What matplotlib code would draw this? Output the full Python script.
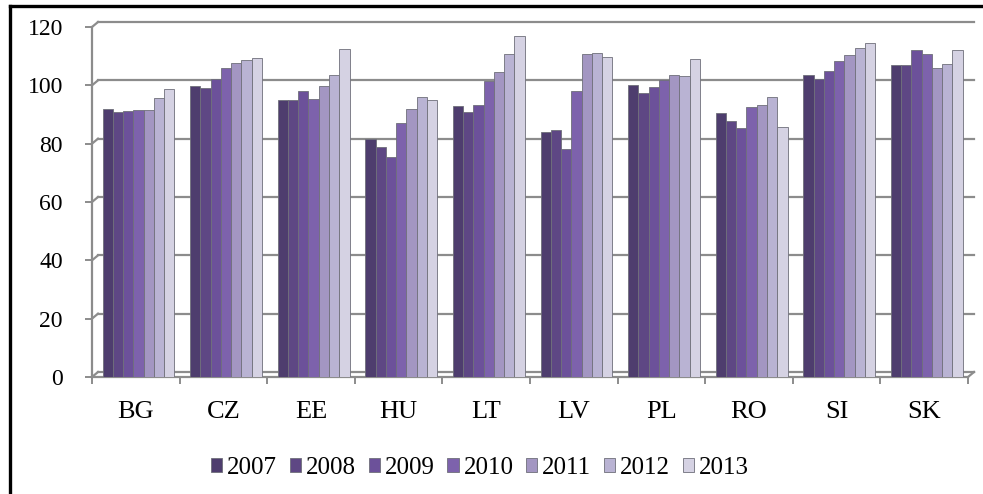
import numpy as np
import matplotlib
matplotlib.use("Agg")
import matplotlib.pyplot as plt
from matplotlib.transforms import ScaledTranslation
from matplotlib.lines import Line2D

plt.rcParams['font.family'] = ['Liberation Serif', 'DejaVu Serif']

# price level index by country and year
countries = ['BG', 'CZ', 'EE', 'HU', 'LT', 'LV', 'PL', 'RO', 'SI', 'SK']
years = ['2007', '2008', '2009', '2010', '2011', '2012', '2013']

v2007 = [91.8, 99.9, 95.1, 81.5, 92.9, 84.0, 100.2, 90.6, 103.6, 107.1]
v2008 = [91.0, 99.0, 95.0, 78.8, 91.0, 84.8, 97.4, 87.8, 102.1, 107.1]
v2009 = [91.3, 102.1, 97.9, 75.4, 93.1, 78.1, 99.3, 85.4, 104.8, 112.1]
v2010 = [91.7, 105.9, 95.3, 87.2, 101.6, 98.0, 101.9, 92.7, 108.4, 110.7]
v2011 = [91.5, 107.6, 99.7, 91.9, 104.4, 110.9, 103.6, 93.4, 110.5, 106.1]
v2012 = [95.8, 108.6, 103.5, 96.0, 110.9, 111.2, 103.2, 96.1, 112.7, 107.2]
v2013 = [98.7, 109.5, 112.3, 95.1, 116.9, 109.7, 108.9, 85.7, 114.6, 112.1]

series = [v2007, v2008, v2009, v2010, v2011, v2012, v2013]
colors = ['#4e3d6e', '#5e4784', '#6c519a', '#7d62ac', '#a396c2', '#b9b3d3', '#d5d2e3']
grid_col = '#8c8c8c'

fig = plt.figure(figsize=(9.83, 4.94), dpi=100)
ax = fig.add_axes([92 / 983, 117 / 494, 876 / 983, 350 / 494])

x = np.arange(len(countries))
n = len(series)
width = 0.82 / n
offset = 0.03

# back wall gridlines, shifted up/right a few pixels like a shallow 3D wall
shift = ScaledTranslation(6 / 100, 5 / 100, fig.dpi_scale_trans)
for yv in range(0, 121, 20):
    ax.plot([-0.5, len(countries) - 0.5], [yv, yv], color=grid_col, lw=1.6,
            transform=ax.transData + shift, clip_on=False, zorder=1)

for i, (vals, c) in enumerate(zip(series, colors)):
    pos = x + offset - 0.41 + width * (i + 0.5)
    ax.bar(pos, vals, width=width, color=c, edgecolor='#6f6f7a', linewidth=0.6,
           label=years[i], zorder=3)

ax.set_xlim(-0.5, len(countries) - 0.5)
ax.set_ylim(0, 120)
ax.set_yticks(range(0, 121, 20))

# category ticks sit between groups, labels at the group centres
ax.set_xticks(np.arange(-0.5, len(countries), 1.0))
ax.set_xticklabels([])
ax.set_xticks(x, minor=True)
ax.set_xticklabels(countries, minor=True)
ax.tick_params(axis='x', which='major', length=5, width=1.4, color=grid_col)
ax.tick_params(axis='x', which='minor', length=0, pad=17, labelsize=19)
ax.tick_params(axis='y', length=5, width=1.4, color=grid_col, pad=16, labelsize=17)

for side in ['top', 'right']:
    ax.spines[side].set_visible(False)
for side in ['left', 'bottom']:
    ax.spines[side].set_color(grid_col)
    ax.spines[side].set_linewidth(1.6)

# diagonal connectors from the front axis to the back wall
for yv in range(0, 121, 20):
    px, py = ax.transData.transform((-0.5, yv))
    fig.add_artist(Line2D([px / 983, (px + 6) / 983], [py / 494, (py + 5) / 494],
                          color=grid_col, lw=1.6))
px, py = ax.transData.transform((len(countries) - 0.5, 0))
fig.add_artist(Line2D([px / 983, (px + 6) / 983], [py / 494, (py + 5) / 494],
                      color=grid_col, lw=1.6))

ax.legend(loc='center', bbox_to_anchor=(480 / 983, 26 / 494), bbox_transform=fig.transFigure,
          ncol=7, frameon=False, fontsize=18, handlelength=0.45, handleheight=0.45,
          handletextpad=0.2, columnspacing=0.5)

# black frame round the chart
fig.add_artist(Line2D([9.5 / 983, 9.5 / 983], [0, 1 - 6.5 / 494], color='black', lw=2.4))
fig.add_artist(Line2D([9.5 / 983, 1], [1 - 6.5 / 494, 1 - 6.5 / 494], color='black', lw=2.4))

fig.savefig('out.png', dpi=100)
